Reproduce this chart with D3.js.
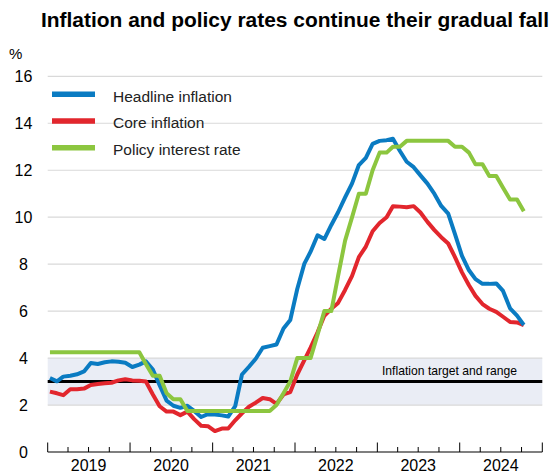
<!DOCTYPE html>
<html>
<head>
<meta charset="utf-8">
<script src="https://cdn.jsdelivr.net/npm/d3@7"></script>
<style>
  html, body { margin: 0; padding: 0; background: #ffffff; }
  svg { display: block; font-family: "Liberation Sans", Arial, sans-serif; }
</style>
</head>
<body>
<svg id="chart" width="552" height="475"></svg>
<script>
// ---- Data (monthly, Jan 2019 – Oct 2024) ----
const startYear = 2019;
const headline = [
  3.15, 3.01, 3.21, 3.25, 3.31, 3.43, 3.79, 3.75, 3.82, 3.86, 3.84, 3.80,
  3.62, 3.72, 3.86, 3.51, 2.85, 2.19, 1.97, 1.88, 1.97, 1.75, 1.49, 1.61,
  1.60, 1.56, 1.51, 1.95, 3.30, 3.63, 3.97, 4.44, 4.51, 4.58, 5.26, 5.62,
  6.94, 8.01, 8.53, 9.23, 9.07, 9.67, 10.21, 10.84, 11.44, 12.22, 12.53, 13.12,
  13.25, 13.28, 13.34, 12.82, 12.36, 12.13, 11.78, 11.43, 10.99, 10.48, 10.15, 9.28,
  8.35, 7.74, 7.36, 7.16, 7.16, 7.18, 6.86, 6.12, 5.81, 5.41
];
const core = [
  2.57, 2.50, 2.42, 2.67, 2.67, 2.70, 2.85, 2.90, 2.93, 2.95, 3.05, 3.10,
  3.05, 3.03, 3.00, 2.45, 1.95, 1.72, 1.72, 1.57, 1.72, 1.40, 1.12, 1.10,
  0.89, 1.00, 1.00, 1.35, 1.65, 1.93, 2.10, 2.30, 2.25, 2.05, 2.45, 2.55,
  3.30, 3.90, 4.45, 5.10, 5.80, 6.10, 6.35, 6.90, 7.50, 8.30, 8.75, 9.40,
  9.75, 10.00, 10.47, 10.45, 10.42, 10.47, 10.20, 9.80, 9.45, 9.15, 8.88, 8.30,
  7.65, 7.10, 6.65, 6.30, 6.10, 5.97, 5.76, 5.54, 5.52, 5.40
];
const policy = [
  4.25, 4.25, 4.25, 4.25, 4.25, 4.25, 4.25, 4.25, 4.25, 4.25, 4.25, 4.25,
  4.25, 4.25, 3.75, 3.25, 3.25, 2.50, 2.25, 2.25, 1.75, 1.75, 1.75, 1.75,
  1.75, 1.75, 1.75, 1.75, 1.75, 1.75, 1.75, 1.75, 1.75, 2.00, 2.50, 3.00,
  4.00, 4.00, 4.00, 5.00, 6.00, 6.00, 7.50, 9.00, 10.00, 11.00, 11.00, 12.00,
  12.75, 12.75, 13.00, 13.00, 13.25, 13.25, 13.25, 13.25, 13.25, 13.25, 13.25, 13.00,
  13.00, 12.75, 12.25, 12.25, 11.75, 11.75, 11.25, 10.75, 10.75, 10.25
];
const seriesNames = ["Headline inflation", "Core inflation", "Policy interest rate"];
const seriesColors = ["#0a7bc2", "#e2262d", "#8cc63f"];
const yTicks = [0, 2, 4, 6, 8, 10, 12, 14, 16];
const yearLabels = ["2019", "2020", "2021", "2022", "2023", "2024"];
const targetRange = [2, 4];
const targetValue = 3;
const titleText = "Inflation and policy rates continue their gradual fall";
const unitText = "%";
const targetLabel = "Inflation target and range";

// ---- Layout ----
const svg = d3.select("#chart");
const plotLeft = 47.7, plotRight = 542.3, plotTop = 76.3, plotBottom = 452;

const x = d3.scaleTime()
  .domain([new Date(2019, 0, 1), new Date(2025, 0, 1)])
  .range([plotLeft, plotRight]);
const y = d3.scaleLinear().domain([0, 16]).range([plotBottom, plotTop]);

const dateOf = i => new Date(startYear + Math.floor(i / 12), i % 12, 11);

// Title
svg.append("text")
  .attr("x", 41).attr("y", 27)
  .attr("font-size", 19.5).attr("font-weight", "bold").attr("fill", "#000")
  .attr("textLength", 508).attr("lengthAdjust", "spacingAndGlyphs")
  .text(titleText);

// Unit
svg.append("text")
  .attr("x", 9).attr("y", 59)
  .attr("font-size", 15).attr("fill", "#000")
  .text(unitText);

// Target band
svg.append("rect")
  .attr("x", plotLeft).attr("width", plotRight - plotLeft)
  .attr("y", y(targetRange[1])).attr("height", y(targetRange[0]) - y(targetRange[1]))
  .attr("fill", "#eaedf5");

// Gridlines
svg.append("g").selectAll("line")
  .data(yTicks.filter(d => d > 0))
  .join("line")
  .attr("x1", plotLeft).attr("x2", plotRight)
  .attr("y1", d => y(d)).attr("y2", d => y(d))
  .attr("stroke", "#d9d9d9").attr("stroke-width", 1.2);

// Y labels
svg.append("g").selectAll("text")
  .data(yTicks)
  .join("text")
  .attr("x", 23.5).attr("y", d => y(d) + 6)
  .attr("text-anchor", "middle")
  .attr("font-size", 16).attr("fill", "#000")
  .text(d => d);

// Target line
svg.append("line")
  .attr("x1", plotLeft).attr("x2", plotRight)
  .attr("y1", y(targetValue)).attr("y2", y(targetValue))
  .attr("stroke", "#000").attr("stroke-width", 3);

svg.append("text")
  .attr("x", 517).attr("y", 375)
  .attr("text-anchor", "end")
  .attr("font-size", 13).attr("fill", "#000")
  .attr("textLength", 135).attr("lengthAdjust", "spacingAndGlyphs")
  .text(targetLabel);

// X axis
const quarterTicks = d3.timeMonth.every(3).range(new Date(2019, 0, 1), new Date(2025, 0, 2));
svg.append("line")
  .attr("x1", plotLeft).attr("x2", plotRight)
  .attr("y1", plotBottom).attr("y2", plotBottom)
  .attr("stroke", "#000").attr("stroke-width", 1.2);
svg.append("g").selectAll("line")
  .data(quarterTicks)
  .join("line")
  .attr("x1", d => x(d)).attr("x2", d => x(d))
  .attr("y1", plotBottom)
  .attr("y2", d => d.getMonth() === 0 ? plotBottom - 9.5 : plotBottom - 5)
  .attr("stroke", "#000").attr("stroke-width", 1);

svg.append("g").selectAll("text")
  .data(yearLabels)
  .join("text")
  .attr("x", d => x(new Date(+d, 6, 1)))
  .attr("y", 471)
  .attr("text-anchor", "middle")
  .attr("font-size", 16).attr("fill", "#000")
  .text(d => d);

// Lines
const line = d3.line()
  .x((d, i) => x(dateOf(i)))
  .y(d => y(d))
  .curve(d3.curveLinear);

const drawOrder = [
  { data: core, color: seriesColors[1] },
  { data: headline, color: seriesColors[0] },
  { data: policy, color: seriesColors[2] }
];
svg.append("g").selectAll("path")
  .data(drawOrder)
  .join("path")
  .attr("d", d => line(d.data))
  .attr("fill", "none")
  .attr("stroke", d => d.color)
  .attr("stroke-width", 4)
  .attr("stroke-linejoin", "round");

// Legend
const legendY = [94.3, 121, 147.7];
const lg = svg.append("g").selectAll("g")
  .data(seriesNames)
  .join("g")
  .attr("transform", (d, i) => `translate(0,${legendY[i]})`);
lg.append("line")
  .attr("x1", 52).attr("x2", 95)
  .attr("y1", 0).attr("y2", 0)
  .attr("stroke", (d, i) => seriesColors[i])
  .attr("stroke-width", 5.5);
lg.append("text")
  .attr("x", 113).attr("y", 7.3)
  .attr("font-size", 15.5).attr("fill", "#222")
  .text(d => d);
</script>
</body>
</html>
